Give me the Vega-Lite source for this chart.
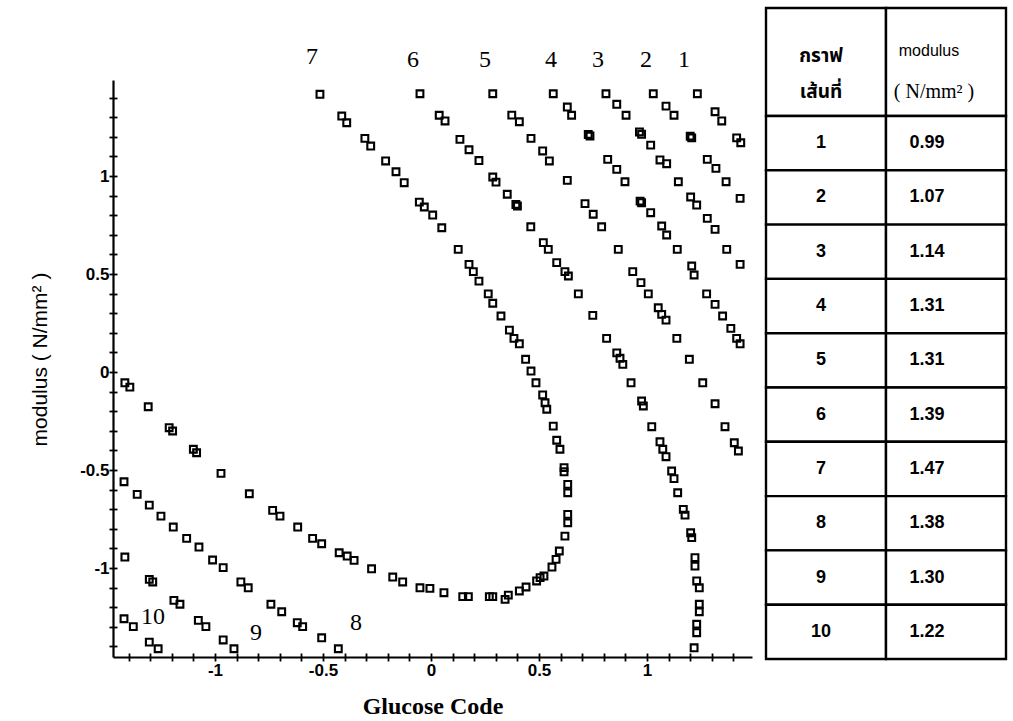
{
  "$schema": "https://vega.github.io/schema/vega-lite/v6.json",
  "background": "white",
  "padding": {"left": 29, "top": 6, "right": 4, "bottom": 4},
  "config": {
    "view": {"stroke": null},
    "axis": {
      "grid": false,
      "domainColor": "black",
      "domainWidth": 2.2,
      "tickColor": "black",
      "tickWidth": 1.8,
      "tickSize": 4,
      "labelColor": "black",
      "labelFont": "Liberation Sans",
      "labelFontSize": 17,
      "labelFontWeight": "bold",
      "titleColor": "black"
    }
  },
  "datasets": {
    "points": [
      {"c":1,"x":1.233,"y":1.420},{"c":1,"x":1.315,"y":1.328},{"c":1,"x":1.346,"y":1.281},{"c":1,"x":1.415,"y":1.195},{"c":1,"x":1.434,"y":1.170},
      {"c":2,"x":1.029,"y":1.420},{"c":2,"x":1.088,"y":1.357},{"c":2,"x":1.125,"y":1.310},{"c":2,"x":1.200,"y":1.203},{"c":2,"x":1.207,"y":1.195},{"c":2,"x":1.279,"y":1.085},{"c":2,"x":1.319,"y":1.039},{"c":2,"x":1.366,"y":0.971},{"c":2,"x":1.431,"y":0.886},
      {"c":3,"x":0.810,"y":1.420},{"c":3,"x":0.860,"y":1.366},{"c":3,"x":0.903,"y":1.310},{"c":3,"x":0.965,"y":1.225},{"c":3,"x":0.975,"y":1.213},{"c":3,"x":1.017,"y":1.158},{"c":3,"x":1.060,"y":1.082},{"c":3,"x":1.091,"y":1.063},{"c":3,"x":1.145,"y":0.971},{"c":3,"x":1.202,"y":0.893},{"c":3,"x":1.230,"y":0.852},{"c":3,"x":1.279,"y":0.784},{"c":3,"x":1.315,"y":0.728},{"c":3,"x":1.369,"y":0.626},{"c":3,"x":1.431,"y":0.549},
      {"c":4,"x":0.566,"y":1.420},{"c":4,"x":0.631,"y":1.352},{"c":4,"x":0.651,"y":1.310},{"c":4,"x":0.728,"y":1.212},{"c":4,"x":0.736,"y":1.204},{"c":4,"x":0.818,"y":1.085},{"c":4,"x":0.860,"y":1.034},{"c":4,"x":0.898,"y":0.971},{"c":4,"x":0.968,"y":0.872},{"c":4,"x":0.975,"y":0.864},{"c":4,"x":1.017,"y":0.813},{"c":4,"x":1.068,"y":0.745},{"c":4,"x":1.091,"y":0.699},{"c":4,"x":1.140,"y":0.626},{"c":4,"x":1.207,"y":0.541},{"c":4,"x":1.218,"y":0.495},{"c":4,"x":1.276,"y":0.399},{"c":4,"x":1.315,"y":0.345},{"c":4,"x":1.350,"y":0.286},{"c":4,"x":1.388,"y":0.223},{"c":4,"x":1.415,"y":0.172},{"c":4,"x":1.431,"y":0.144},
      {"c":5,"x":0.286,"y":1.420},{"c":5,"x":0.374,"y":1.311},{"c":5,"x":0.409,"y":1.277},{"c":5,"x":0.463,"y":1.192},{"c":5,"x":0.517,"y":1.128},{"c":5,"x":0.548,"y":1.077},{"c":5,"x":0.631,"y":0.978},{"c":5,"x":0.713,"y":0.859},{"c":5,"x":0.751,"y":0.805},{"c":5,"x":0.790,"y":0.741},{"c":5,"x":0.867,"y":0.626},{"c":5,"x":0.934,"y":0.512},{"c":5,"x":0.972,"y":0.456},{"c":5,"x":1.006,"y":0.399},{"c":5,"x":1.052,"y":0.328},{"c":5,"x":1.068,"y":0.294},{"c":5,"x":1.088,"y":0.265},{"c":5,"x":1.138,"y":0.172},{"c":5,"x":1.196,"y":0.065},{"c":5,"x":1.258,"y":-0.055},{"c":5,"x":1.315,"y":-0.162},{"c":5,"x":1.361,"y":-0.279},{"c":5,"x":1.404,"y":-0.361},{"c":5,"x":1.423,"y":-0.403},
      {"c":6,"x":-0.051,"y":1.420},{"c":6,"x":0.038,"y":1.310},{"c":6,"x":0.065,"y":1.281},{"c":6,"x":0.134,"y":1.187},{"c":6,"x":0.176,"y":1.134},{"c":6,"x":0.222,"y":1.079},{"c":6,"x":0.286,"y":0.995},{"c":6,"x":0.301,"y":0.969},{"c":6,"x":0.353,"y":0.907},{"c":6,"x":0.393,"y":0.855},{"c":6,"x":0.400,"y":0.847},{"c":6,"x":0.462,"y":0.741},{"c":6,"x":0.520,"y":0.660},{"c":6,"x":0.543,"y":0.626},{"c":6,"x":0.582,"y":0.558},{"c":6,"x":0.620,"y":0.512},{"c":6,"x":0.636,"y":0.490},{"c":6,"x":0.682,"y":0.399},{"c":6,"x":0.749,"y":0.289},{"c":6,"x":0.813,"y":0.172},{"c":6,"x":0.860,"y":0.098},{"c":6,"x":0.875,"y":0.070},{"c":6,"x":0.888,"y":0.039},{"c":6,"x":0.926,"y":-0.055},{"c":6,"x":0.975,"y":-0.148},{"c":6,"x":0.983,"y":-0.173},{"c":6,"x":1.022,"y":-0.279},{"c":6,"x":1.060,"y":-0.356},{"c":6,"x":1.073,"y":-0.394},{"c":6,"x":1.088,"y":-0.432},{"c":6,"x":1.114,"y":-0.505},{"c":6,"x":1.125,"y":-0.544},{"c":6,"x":1.142,"y":-0.616},{"c":6,"x":1.168,"y":-0.701},{"c":6,"x":1.176,"y":-0.730},{"c":6,"x":1.202,"y":-0.820},{"c":6,"x":1.207,"y":-0.845},{"c":6,"x":1.222,"y":-0.947},{"c":6,"x":1.222,"y":-0.990},{"c":6,"x":1.230,"y":-1.066},{"c":6,"x":1.242,"y":-1.101},{"c":6,"x":1.242,"y":-1.185},{"c":6,"x":1.242,"y":-1.223},{"c":6,"x":1.230,"y":-1.287},{"c":6,"x":1.230,"y":-1.330},{"c":6,"x":1.218,"y":-1.407},
      {"c":7,"x":-0.514,"y":1.417},{"c":7,"x":-0.413,"y":1.306},{"c":7,"x":-0.390,"y":1.272},{"c":7,"x":-0.306,"y":1.192},{"c":7,"x":-0.279,"y":1.153},{"c":7,"x":-0.210,"y":1.077},{"c":7,"x":-0.162,"y":1.022},{"c":7,"x":-0.124,"y":0.966},{"c":7,"x":-0.054,"y":0.867},{"c":7,"x":-0.031,"y":0.842},{"c":7,"x":0.008,"y":0.801},{"c":7,"x":0.050,"y":0.736},{"c":7,"x":0.126,"y":0.626},{"c":7,"x":0.176,"y":0.549},{"c":7,"x":0.196,"y":0.512},{"c":7,"x":0.222,"y":0.464},{"c":7,"x":0.265,"y":0.399},{"c":7,"x":0.286,"y":0.351},{"c":7,"x":0.324,"y":0.286},{"c":7,"x":0.363,"y":0.214},{"c":7,"x":0.384,"y":0.172},{"c":7,"x":0.409,"y":0.144},{"c":7,"x":0.438,"y":0.065},{"c":7,"x":0.463,"y":0.005},{"c":7,"x":0.486,"y":-0.055},{"c":7,"x":0.517,"y":-0.117},{"c":7,"x":0.528,"y":-0.157},{"c":7,"x":0.536,"y":-0.190},{"c":7,"x":0.566,"y":-0.276},{"c":7,"x":0.582,"y":-0.348},{"c":7,"x":0.597,"y":-0.394},{"c":7,"x":0.616,"y":-0.488},{"c":7,"x":0.616,"y":-0.509},{"c":7,"x":0.633,"y":-0.573},{"c":7,"x":0.633,"y":-0.616},{"c":7,"x":0.633,"y":-0.726},{"c":7,"x":0.633,"y":-0.769},{"c":7,"x":0.620,"y":-0.837},{"c":7,"x":0.594,"y":-0.913},{"c":7,"x":0.579,"y":-0.956},{"c":7,"x":0.560,"y":-0.995},{"c":7,"x":0.523,"y":-1.041},{"c":7,"x":0.505,"y":-1.049},{"c":7,"x":0.489,"y":-1.066},{"c":7,"x":0.440,"y":-1.097},{"c":7,"x":0.409,"y":-1.117},{"c":7,"x":0.358,"y":-1.138},{"c":7,"x":0.343,"y":-1.160},{"c":7,"x":0.286,"y":-1.146},{"c":7,"x":0.270,"y":-1.146},{"c":7,"x":0.173,"y":-1.146},{"c":7,"x":0.147,"y":-1.146},{"c":7,"x":0.060,"y":-1.126},{"c":7,"x":-0.005,"y":-1.104},{"c":7,"x":-0.051,"y":-1.101},{"c":7,"x":-0.131,"y":-1.071},{"c":7,"x":-0.177,"y":-1.046},{"c":7,"x":-0.275,"y":-1.004},{"c":7,"x":-0.356,"y":-0.961},{"c":7,"x":-0.388,"y":-0.939},{"c":7,"x":-0.425,"y":-0.922},{"c":7,"x":-0.506,"y":-0.876},{"c":7,"x":-0.548,"y":-0.849},{"c":7,"x":-0.617,"y":-0.791},{"c":7,"x":-0.699,"y":-0.735},{"c":7,"x":-0.733,"y":-0.706},{"c":7,"x":-0.841,"y":-0.621},{"c":7,"x":-0.972,"y":-0.517},{"c":7,"x":-1.085,"y":-0.412},{"c":7,"x":-1.100,"y":-0.394},{"c":7,"x":-1.196,"y":-0.301},{"c":7,"x":-1.212,"y":-0.284},{"c":7,"x":-1.309,"y":-0.177},{"c":7,"x":-1.394,"y":-0.077},{"c":7,"x":-1.417,"y":-0.055},
      {"c":8,"x":-1.421,"y":-0.560},{"c":8,"x":-1.360,"y":-0.624},{"c":8,"x":-1.304,"y":-0.679},{"c":8,"x":-1.250,"y":-0.735},{"c":8,"x":-1.193,"y":-0.791},{"c":8,"x":-1.131,"y":-0.849},{"c":8,"x":-1.074,"y":-0.893},{"c":8,"x":-1.011,"y":-0.959},{"c":8,"x":-0.962,"y":-0.998},{"c":8,"x":-0.880,"y":-1.071},{"c":8,"x":-0.846,"y":-1.101},{"c":8,"x":-0.741,"y":-1.185},{"c":8,"x":-0.691,"y":-1.223},{"c":8,"x":-0.619,"y":-1.279},{"c":8,"x":-0.594,"y":-1.299},{"c":8,"x":-0.506,"y":-1.356},{"c":8,"x":-0.429,"y":-1.412},
      {"c":9,"x":-1.417,"y":-0.944},{"c":9,"x":-1.304,"y":-1.058},{"c":9,"x":-1.288,"y":-1.071},{"c":9,"x":-1.190,"y":-1.165},{"c":9,"x":-1.162,"y":-1.185},{"c":9,"x":-1.077,"y":-1.267},{"c":9,"x":-1.042,"y":-1.299},{"c":9,"x":-0.962,"y":-1.367},{"c":9,"x":-0.912,"y":-1.412},
      {"c":10,"x":-1.421,"y":-1.259},{"c":10,"x":-1.378,"y":-1.299},{"c":10,"x":-1.304,"y":-1.378},{"c":10,"x":-1.263,"y":-1.412}
    ],
    "labels": [
      {"t":"1","x":1.171,"y":1.594},
      {"t":"2","x":0.995,"y":1.594},
      {"t":"3","x":0.773,"y":1.594},
      {"t":"4","x":0.556,"y":1.594},
      {"t":"5","x":0.250,"y":1.594},
      {"t":"6","x":-0.083,"y":1.594},
      {"t":"7","x":-0.551,"y":1.607},
      {"t":"8","x":-0.347,"y":-1.281},
      {"t":"9","x":-0.810,"y":-1.330},
      {"t":"10","x":-1.287,"y":-1.250}
    ],
    "header": [
      {"col":"A","line":"1","t":"กราฟ"},
      {"col":"A","line":"2","t":"เส้นที่"},
      {"col":"B","line":"1","t":"modulus"},
      {"col":"B","line":"2","t":"( N/mm² )"}
    ],
    "table": [
      {"line":"1","modulus":"0.99"},
      {"line":"2","modulus":"1.07"},
      {"line":"3","modulus":"1.14"},
      {"line":"4","modulus":"1.31"},
      {"line":"5","modulus":"1.31"},
      {"line":"6","modulus":"1.39"},
      {"line":"7","modulus":"1.47"},
      {"line":"8","modulus":"1.38"},
      {"line":"9","modulus":"1.30"},
      {"line":"10","modulus":"1.22"}
    ]
  },
  "spacing": 14,
  "bounds": "flush",
  "hconcat": [
    {
      "width": 639,
      "height": 649,
      "layer": [
        {
          "data": {"name": "points"},
          "mark": {"type": "point", "shape": "square", "filled": false, "color": "black", "strokeWidth": 2.1, "size": 46, "opacity": 1},
          "encoding": {
            "x": {
              "field": "x", "type": "quantitative",
              "scale": {"domain": [-1.472, 1.486], "nice": false, "zero": false},
              "axis": {
                "orient": "bottom",
                "values": [-1.4,-1.3,-1.2,-1.1,-1,-0.9,-0.8,-0.7,-0.6,-0.5,-0.4,-0.3,-0.2,-0.1,0,0.1,0.2,0.3,0.4,0.5,0.6,0.7,0.8,0.9,1,1.1,1.2,1.3,1.4],
                "labelExpr": "abs(datum.value * 2 - round(datum.value * 2)) < 0.001 ? '' + datum.value : ''",
                "labelPadding": 1,
                "title": "Glucose Code",
                "titleFont": "Liberation Serif",
                "titleFontSize": 24,
                "titleFontWeight": "bold",
                "titleBaseline": "middle",
                "titleY": 49
              }
            },
            "y": {
              "field": "y", "type": "quantitative",
              "scale": {"domain": [-1.454, 1.49], "range": [649, 72], "nice": false, "zero": false},
              "axis": {
                "orient": "left",
                "values": [-1.4,-1.3,-1.2,-1.1,-1,-0.9,-0.8,-0.7,-0.6,-0.5,-0.4,-0.3,-0.2,-0.1,0,0.1,0.2,0.3,0.4,0.5,0.6,0.7,0.8,0.9,1,1.1,1.2,1.3,1.4],
                "labelExpr": "abs(datum.value * 2 - round(datum.value * 2)) < 0.001 ? '' + datum.value : ''",
                "labelPadding": 0,
                "title": "modulus ( N/mm² )",
                "titleFont": "Liberation Sans",
                "titleFontSize": 21,
                "titleFontWeight": "normal",
                "titleBaseline": "middle",
                "titleX": -73,
                "titleY": 351
              }
            }
          }
        },
        {
          "data": {"name": "labels"},
          "mark": {"type": "text", "font": "Liberation Serif", "fontSize": 24, "align": "center", "baseline": "middle", "color": "black"},
          "encoding": {
            "x": {
              "field": "x", "type": "quantitative",
              "scale": {"domain": [-1.472, 1.486], "nice": false, "zero": false},
              "axis": {
                "orient": "bottom", "domain": false, "labels": false, "title": null, "tickSize": -4,
                "values": [-1.4,-1.3,-1.2,-1.1,-1,-0.9,-0.8,-0.7,-0.6,-0.5,-0.4,-0.3,-0.2,-0.1,0,0.1,0.2,0.3,0.4,0.5,0.6,0.7,0.8,0.9,1,1.1,1.2,1.3,1.4]
              }
            },
            "y": {
              "field": "y", "type": "quantitative",
              "scale": {"domain": [-1.454, 1.49], "range": [649, 72], "nice": false, "zero": false},
              "axis": {
                "orient": "left", "domain": false, "labels": false, "title": null, "tickSize": -4,
                "values": [-1.4,-1.3,-1.2,-1.1,-1,-0.9,-0.8,-0.7,-0.6,-0.5,-0.4,-0.3,-0.2,-0.1,0,0.1,0.2,0.3,0.4,0.5,0.6,0.7,0.8,0.9,1,1.1,1.2,1.3,1.4]
              }
            },
            "text": {"field": "t"}
          }
        }
      ],
      "resolve": {"axis": {"x": "independent", "y": "independent"}}
    },
    {
      "spacing": 0,
      "bounds": "flush",
      "vconcat": [
        {
          "width": 240,
          "height": 108,
          "data": {"name": "header"},
          "layer": [
            {
              "transform": [{"filter": "datum.line == '1'"}],
              "mark": {"type": "rect", "fill": "white", "stroke": "black", "strokeWidth": 2.4},
              "encoding": {
                "x": {"field": "col", "type": "nominal", "axis": null, "scale": {"paddingInner": 0, "paddingOuter": 0}}
              }
            },
            {
              "transform": [{"filter": "datum.col == 'A'"}],
              "mark": {"type": "text", "font": "Noto Sans Thai, Loma, Garuda, Norasi, Noto Sans, sans-serif", "fontSize": 19, "fontWeight": "bold", "dx": -5, "dy": 12, "color": "black"},
              "encoding": {
                "x": {"field": "col", "type": "nominal", "axis": null},
                "y": {"field": "line", "type": "ordinal", "axis": null, "scale": {"type": "point", "padding": 1.136}},
                "text": {"field": "t"}
              }
            },
            {
              "transform": [{"filter": "datum.col == 'B' && datum.line == '1'"}],
              "mark": {"type": "text", "font": "Liberation Sans", "fontSize": 16, "dx": -17, "dy": 7, "color": "black"},
              "encoding": {
                "x": {"field": "col", "type": "nominal", "axis": null},
                "y": {"field": "line", "type": "ordinal", "axis": null, "scale": {"type": "point", "padding": 1.136}},
                "text": {"field": "t"}
              }
            },
            {
              "transform": [{"filter": "datum.col == 'B' && datum.line == '2'"}],
              "mark": {"type": "text", "font": "Liberation Serif", "fontSize": 20, "dx": -12, "dy": 12, "color": "black"},
              "encoding": {
                "x": {"field": "col", "type": "nominal", "axis": null},
                "y": {"field": "line", "type": "ordinal", "axis": null, "scale": {"type": "point", "padding": 1.136}},
                "text": {"field": "t"}
              }
            }
          ]
        },
        {
          "width": 240,
          "height": 543,
          "data": {"name": "table"},
          "transform": [{"fold": ["line", "modulus"], "as": ["col", "val"]}],
          "layer": [
            {
              "mark": {"type": "rect", "fill": "white", "stroke": "black", "strokeWidth": 2.4},
              "encoding": {
                "x": {"field": "col", "type": "nominal", "axis": null, "scale": {"paddingInner": 0, "paddingOuter": 0}},
                "y": {"field": "line", "type": "ordinal", "axis": null, "sort": ["1","2","3","4","5","6","7","8","9","10"], "scale": {"paddingInner": 0, "paddingOuter": 0}}
              }
            },
            {
              "transform": [{"filter": "datum.col == 'line'"}],
              "mark": {"type": "text", "font": "Liberation Sans", "fontSize": 18, "fontWeight": "bold", "dx": -5, "color": "black"},
              "encoding": {
                "x": {"field": "col", "type": "nominal", "axis": null},
                "y": {"field": "line", "type": "ordinal", "axis": null, "sort": ["1","2","3","4","5","6","7","8","9","10"]},
                "text": {"field": "val"}
              }
            },
            {
              "transform": [{"filter": "datum.col == 'modulus'"}],
              "mark": {"type": "text", "font": "Liberation Sans", "fontSize": 18, "fontWeight": "bold", "dx": -19, "color": "black"},
              "encoding": {
                "x": {"field": "col", "type": "nominal", "axis": null},
                "y": {"field": "line", "type": "ordinal", "axis": null, "sort": ["1","2","3","4","5","6","7","8","9","10"]},
                "text": {"field": "val"}
              }
            }
          ]
        }
      ]
    }
  ]
}
